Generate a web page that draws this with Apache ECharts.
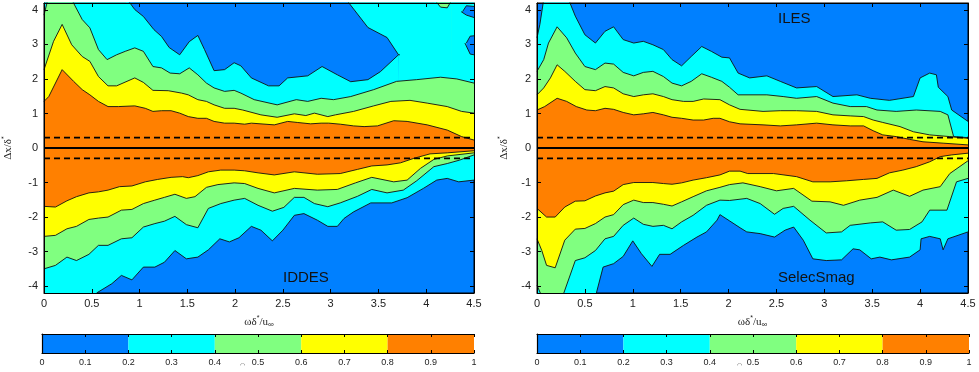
<!DOCTYPE html>
<html>
<head>
<meta charset="utf-8">
<script src="https://cdn.jsdelivr.net/npm/echarts@6/dist/echarts.min.js"></script>
<style>
html, body { margin: 0; padding: 0; background: #fff; }
#chart { width: 979px; height: 372px; }
</style>
</head>
<body>
<div id="chart"></div>
<script>
// contour levels and their colours (0-0.2 blue ... 0.8-1 orange)
var levelBreaks = [0, 0.2, 0.4, 0.6, 0.8, 1];
var levelColors = ['#0080ff', '#00ffff', '#80ff80', '#ffff00', '#ff8000'];
var yTicks = [-4, -3, -2, -1, 0, 1, 2, 3, 4];
var omegaRange = [0, 4.5];
var refLines = [0.3, 0, -0.3];
var panelNames = ['HomDynSmag', 'IDDES', 'ILES', 'SelecSmag'];

// ---- HomDynSmag (upper half, left panel) : contour lines [omega, dx]
var homL02 = [[0, 4.5], [4.5, 4.5]];
var homBlobTop = [[0.88, 4.5], [3.17, 4.5], [3.18, 4.24], [3.39, 3.49], [3.59, 3.20], [3.71, 2.70]];
var homBlobBottom = [[0.86, 4.35], [0.88, 4.3], [0.95, 4.01], [1.04, 3.81], [1.15, 3.43], [1.23, 3.23], [1.31, 2.91], [1.42, 2.70], [1.52, 3.08], [1.61, 3.26], [1.68, 2.85], [1.78, 2.24], [1.89, 2.27], [1.99, 2.47], [2.06, 2.38], [2.17, 2.03], [2.35, 1.80], [2.46, 1.80], [2.55, 2.03], [2.76, 2.09], [2.91, 2.36], [3.07, 2.12], [3.21, 1.92], [3.39, 1.98], [3.52, 2.21], [3.71, 2.70], [3.725, 2.70]];
var homPatchTop1 = [[4.38, 3.95], [4.42, 4.12], [4.5, 4.1]];
var homPatchBottom1 = [[4.365, 3.95], [4.38, 3.95], [4.42, 3.85], [4.5, 3.78]];
var homPatchTop2 = [[4.42, 3.04], [4.46, 3.24], [4.5, 3.25]];
var homPatchBottom2 = [[4.405, 3.04], [4.42, 3.04], [4.46, 2.72], [4.5, 2.70]];
var homIslandTop = [[4.10, 4.5], [4.26, 4.5]];
var homIslandBottom = [[4.085, 4.3], [4.10, 4.25], [4.15, 4.08], [4.22, 4.06], [4.26, 4.25], [4.275, 4.3]];
var homL04 = [[0, 3.85], [0.04, 4.3], [0.29, 4.3], [0.40, 3.72], [0.48, 3.48], [0.57, 2.85], [0.66, 2.56], [0.76, 2.70], [0.85, 2.80], [0.95, 2.90], [1.04, 2.80], [1.14, 2.36], [1.23, 2.32], [1.32, 2.17], [1.42, 2.15], [1.52, 2.32], [1.61, 2.12], [1.70, 1.88], [1.78, 1.74], [1.89, 1.64], [1.99, 1.67], [2.06, 1.59], [2.20, 1.40], [2.44, 1.25], [2.64, 1.40], [2.76, 1.35], [2.90, 1.44], [3.03, 1.40], [3.21, 1.49], [3.45, 1.69], [3.69, 1.93], [3.90, 1.98], [4.15, 2.05], [4.32, 2.0], [4.5, 1.88]];
var homL06 = [[0, 2.27], [0.10, 3.09], [0.19, 3.58], [0.29, 2.99], [0.40, 2.65], [0.48, 2.51], [0.57, 2.07], [0.67, 1.80], [0.76, 1.80], [0.95, 2.03], [1.04, 1.90], [1.14, 1.67], [1.30, 1.66], [1.44, 1.59], [1.51, 1.54], [1.61, 1.40], [1.70, 1.35], [1.78, 1.25], [1.89, 1.15], [1.99, 1.15], [2.08, 1.10], [2.27, 0.96], [2.44, 0.89], [2.62, 0.99], [2.74, 0.94], [2.83, 1.01], [2.97, 0.91], [3.05, 0.96], [3.24, 1.06], [3.45, 1.22], [3.63, 1.35], [3.83, 1.38], [4.01, 1.30], [4.22, 1.2], [4.37, 1.06], [4.5, 1.01]];
var homL08 = [[0, 1.35], [0.05, 1.49], [0.19, 2.27], [0.31, 1.93], [0.40, 1.69], [0.48, 1.54], [0.57, 1.35], [0.67, 1.2], [0.78, 1.2], [0.95, 1.22], [1.06, 1.15], [1.14, 1.06], [1.23, 1.08], [1.33, 1.08], [1.42, 1.01], [1.51, 0.91], [1.61, 0.86], [1.70, 0.86], [1.78, 0.77], [1.89, 0.72], [1.99, 0.72], [2.10, 0.69], [2.17, 0.72], [2.41, 0.67], [2.55, 0.77], [2.65, 0.74], [2.79, 0.70], [2.90, 0.72], [2.98, 0.72], [3.10, 0.69], [3.24, 0.64], [3.35, 0.62], [3.49, 0.64], [3.66, 0.79], [3.80, 0.77], [4.01, 0.67], [4.22, 0.52], [4.37, 0.33], [4.5, 0.23]];

// ---- IDDES (lower half, left panel)
var iddL02 = [[0, -4.5], [0.53, -4.5], [0.55, -4.2], [0.71, -3.93], [0.81, -3.69], [0.92, -3.82], [1.04, -3.45], [1.16, -3.45], [1.26, -3.31], [1.37, -2.97], [1.49, -3.21], [1.61, -3.16], [1.72, -2.95], [1.84, -2.63], [1.94, -2.72], [2.04, -2.60], [2.17, -2.27], [2.27, -2.38], [2.39, -2.69], [2.50, -2.38], [2.62, -1.95], [2.72, -1.90], [2.86, -2.09], [2.97, -2.27], [3.07, -2.27], [3.14, -2.04], [3.24, -1.85], [3.42, -1.59], [3.64, -1.59], [3.80, -1.44], [3.97, -1.17], [4.11, -0.93], [4.22, -0.88], [4.34, -0.98], [4.5, -0.93]];
var iddL04 = [[0, -3.50], [0.12, -3.40], [0.24, -3.16], [0.34, -3.26], [0.47, -3.08], [0.57, -2.82], [0.67, -2.82], [0.81, -2.63], [0.92, -2.60], [1.04, -2.29], [1.16, -2.19], [1.26, -2.12], [1.37, -1.98], [1.49, -2.22], [1.61, -2.31], [1.72, -1.75], [1.85, -1.61], [1.99, -1.51], [2.10, -1.46], [2.24, -1.66], [2.39, -1.83], [2.51, -1.72], [2.62, -1.43], [2.72, -1.43], [2.83, -1.61], [2.97, -1.70], [3.10, -1.59], [3.28, -1.40], [3.43, -1.20], [3.59, -1.30], [3.76, -1.22], [3.90, -0.95], [4.08, -0.54], [4.22, -0.45], [4.35, -0.35], [4.5, -0.20]];
var iddL06 = [[0, -2.56], [0.12, -2.53], [0.24, -2.34], [0.34, -2.27], [0.47, -2.07], [0.57, -2.03], [0.67, -2.0], [0.81, -1.80], [0.92, -1.78], [1.04, -1.61], [1.16, -1.51], [1.26, -1.43], [1.37, -1.34], [1.49, -1.46], [1.58, -1.41], [1.70, -1.14], [1.82, -1.06], [1.99, -1.01], [2.10, -1.03], [2.24, -1.17], [2.41, -1.30], [2.62, -1.17], [2.86, -1.22], [3.07, -1.20], [3.26, -1.01], [3.43, -0.85], [3.66, -0.98], [3.80, -0.93], [3.94, -0.59], [4.08, -0.33], [4.22, -0.23], [4.5, -0.14]];
var iddL08 = [[0, -1.69], [0.12, -1.71], [0.24, -1.53], [0.34, -1.41], [0.47, -1.30], [0.57, -1.27], [0.67, -1.22], [0.79, -1.12], [0.92, -1.10], [1.06, -0.98], [1.19, -0.91], [1.33, -0.85], [1.45, -0.83], [1.51, -0.86], [1.61, -0.80], [1.72, -0.69], [1.85, -0.64], [1.99, -0.64], [2.10, -0.66], [2.24, -0.72], [2.41, -0.78], [2.62, -0.69], [2.86, -0.76], [3.10, -0.74], [3.28, -0.62], [3.43, -0.52], [3.59, -0.49], [3.73, -0.43], [3.87, -0.30], [4.04, -0.17], [4.22, -0.14], [4.5, -0.08]];

// ---- ILES (upper half, right panel)
var ilesL02 = [[0, 3.19], [0.03, 3.58], [0.07, 4.3], [0.33, 4.3], [0.40, 3.82], [0.50, 3.28], [0.61, 3.04], [0.71, 3.38], [0.80, 3.51], [0.90, 3.14], [1.01, 3.04], [1.11, 3.09], [1.21, 2.99], [1.32, 2.85], [1.41, 2.56], [1.51, 2.38], [1.61, 2.65], [1.72, 2.94], [1.82, 2.80], [1.93, 2.63], [2.01, 2.61], [2.10, 2.17], [2.22, 2.03], [2.40, 2.09], [2.54, 1.93], [2.71, 1.74], [2.92, 1.78], [3.09, 1.49], [3.34, 1.54], [3.48, 1.44], [3.68, 1.38], [3.93, 1.49], [4.0, 2.03], [4.10, 2.17], [4.17, 2.12], [4.19, 1.76], [4.29, 1.49], [4.33, 1.10], [4.5, 0.77]];
var ilesL04 = [[0, 2.22], [0.07, 2.56], [0.12, 3.04], [0.21, 3.51], [0.31, 3.19], [0.40, 2.75], [0.50, 2.36], [0.61, 2.27], [0.71, 2.46], [0.80, 2.43], [0.90, 2.19], [1.01, 2.09], [1.11, 2.19], [1.21, 2.22], [1.32, 2.07], [1.41, 1.88], [1.51, 1.80], [1.61, 1.93], [1.72, 2.15], [1.82, 2.05], [1.93, 1.93], [2.01, 1.76], [2.10, 1.54], [2.40, 1.54], [2.57, 1.49], [2.71, 1.44], [2.92, 1.49], [3.09, 1.30], [3.27, 1.20], [3.44, 1.20], [3.55, 1.10], [3.75, 1.06], [3.96, 1.10], [4.21, 1.06], [4.29, 0.96], [4.35, 0.33], [4.5, 0.30]];
var ilesL06 = [[0, 1.54], [0.07, 1.74], [0.14, 2.03], [0.21, 2.41], [0.29, 2.22], [0.40, 1.93], [0.50, 1.69], [0.61, 1.66], [0.71, 1.78], [0.80, 1.74], [0.90, 1.57], [1.01, 1.49], [1.11, 1.54], [1.21, 1.57], [1.32, 1.49], [1.41, 1.40], [1.53, 1.35], [1.63, 1.35], [1.74, 1.42], [1.91, 1.40], [2.01, 1.25], [2.12, 1.12], [2.36, 1.06], [2.54, 1.08], [2.71, 1.08], [2.92, 1.06], [3.09, 0.96], [3.27, 0.93], [3.41, 0.91], [3.51, 0.81], [3.61, 0.74], [3.79, 0.62], [3.93, 0.47], [4.10, 0.38], [4.31, 0.33], [4.5, 0.28]];
var ilesL08 = [[0, 1.10], [0.08, 1.20], [0.21, 1.44], [0.31, 1.35], [0.41, 1.20], [0.52, 1.10], [0.61, 1.08], [0.71, 1.15], [0.80, 1.12], [0.90, 1.03], [1.01, 0.96], [1.11, 0.99], [1.21, 1.03], [1.32, 0.96], [1.41, 0.89], [1.51, 0.86], [1.63, 0.81], [1.74, 0.81], [1.84, 0.86], [1.91, 0.86], [2.01, 0.76], [2.12, 0.70], [2.36, 0.67], [2.54, 0.64], [2.71, 0.67], [2.92, 0.72], [3.09, 0.67], [3.27, 0.64], [3.41, 0.64], [3.51, 0.50], [3.61, 0.38], [3.75, 0.33], [3.89, 0.25], [4.03, 0.18], [4.24, 0.14], [4.5, 0.09]];

// ---- SelecSmag (lower half, right panel)
var selL02 = [[0, -4.5], [0.60, -4.5], [0.62, -4.2], [0.69, -3.45], [0.80, -3.35], [0.90, -3.14], [1.0, -2.69], [1.09, -3.06], [1.20, -3.43], [1.28, -3.08], [1.39, -3.08], [1.53, -2.82], [1.67, -2.58], [1.77, -2.43], [1.88, -2.09], [1.91, -1.93], [2.01, -2.11], [2.12, -2.31], [2.19, -2.43], [2.33, -2.48], [2.48, -2.58], [2.59, -2.38], [2.68, -2.29], [2.78, -2.67], [2.88, -3.21], [3.02, -3.26], [3.18, -3.24], [3.30, -2.92], [3.37, -2.95], [3.49, -3.21], [3.58, -3.16], [3.70, -3.24], [3.89, -3.16], [4.0, -2.95], [4.01, -2.63], [4.10, -2.56], [4.21, -2.63], [4.24, -2.95], [4.29, -2.63], [4.5, -2.43]];
var selL04 = [[0, -3.98], [0.035, -4.2], [0.04, -4.5], [0.27, -4.5], [0.28, -4.2], [0.40, -3.26], [0.50, -3.18], [0.61, -2.97], [0.71, -2.63], [0.80, -2.56], [0.90, -2.24], [1.01, -2.03], [1.11, -2.21], [1.21, -2.27], [1.32, -2.24], [1.41, -2.34], [1.51, -2.14], [1.63, -1.95], [1.77, -1.66], [1.91, -1.51], [2.01, -1.52], [2.19, -1.46], [2.33, -1.61], [2.48, -1.92], [2.57, -1.75], [2.68, -1.69], [2.85, -2.09], [3.02, -2.46], [3.18, -2.43], [3.27, -2.24], [3.48, -2.17], [3.61, -2.14], [3.75, -2.38], [3.89, -2.36], [4.02, -2.14], [4.10, -1.80], [4.28, -1.80], [4.38, -0.98], [4.5, -0.88]];
var selL06 = [[0, -2.63], [0.05, -2.97], [0.10, -3.40], [0.19, -3.47], [0.29, -2.67], [0.40, -2.35], [0.50, -2.33], [0.61, -2.19], [0.71, -2.0], [0.80, -1.93], [0.90, -1.64], [1.01, -1.51], [1.11, -1.58], [1.21, -1.58], [1.32, -1.63], [1.41, -1.68], [1.51, -1.56], [1.63, -1.41], [1.77, -1.24], [1.91, -1.14], [2.01, -1.06], [2.15, -1.01], [2.33, -1.12], [2.50, -1.24], [2.68, -1.17], [2.87, -1.54], [3.06, -1.56], [3.20, -1.66], [3.37, -1.51], [3.55, -1.43], [3.72, -1.22], [3.89, -1.40], [4.03, -1.22], [4.21, -1.12], [4.31, -0.74], [4.5, -0.37]];
var selL08 = [[0, -1.75], [0.10, -2.0], [0.19, -2.0], [0.29, -1.71], [0.40, -1.54], [0.50, -1.53], [0.61, -1.39], [0.71, -1.30], [0.80, -1.25], [0.90, -1.06], [1.01, -1.0], [1.21, -1.0], [1.32, -1.03], [1.41, -1.05], [1.51, -1.01], [1.63, -0.93], [1.77, -0.86], [1.91, -0.78], [2.01, -0.67], [2.12, -0.67], [2.20, -0.74], [2.47, -0.74], [2.71, -0.83], [2.88, -0.98], [3.06, -0.98], [3.23, -0.95], [3.41, -0.91], [3.55, -0.88], [3.68, -0.72], [3.82, -0.64], [3.96, -0.54], [4.10, -0.40], [4.21, -0.25], [4.33, -0.20], [4.5, -0.15]];

var BLUE = levelColors[0], CYAN = levelColors[1], GREEN = levelColors[2], YELLOW = levelColors[3], ORANGE = levelColors[4];
var FONT = 'Liberation Sans, Arial, Helvetica, sans-serif';

var myChart = echarts.init(document.getElementById('chart'));

// filled contour: line with area down to 0
function band(data, color, xi, yi) {
    return {
        type: 'line',
        xAxisIndex: xi,
        yAxisIndex: yi,
        data: data,
        symbol: 'none',
        clip: true,
        silent: true,
        animation: false,
        lineStyle: {color: '#111', width: 0.9},
        areaStyle: {color: color, opacity: 1, origin: 'auto'}
    };
}

function refLine(v, xi, yi) {
    return {
        type: 'line',
        xAxisIndex: xi,
        yAxisIndex: yi,
        data: [[omegaRange[0], v], [omegaRange[1], v]],
        symbol: 'none',
        silent: true,
        animation: false,
        z: 5,
        lineStyle: {color: '#000', width: v === 0 ? 2 : 1.6, type: v === 0 ? 'solid' : [6, 4]}
    };
}

function mainX(gi, pos) {
    return {
        type: 'value', gridIndex: gi, position: pos, min: omegaRange[0], max: omegaRange[1], interval: 0.5,
        z: 10,
        axisLine: {show: true, onZero: false, lineStyle: {color: '#000', width: 1}},
        axisTick: {show: true, inside: true, length: 4, lineStyle: {color: '#000'}},
        axisLabel: {show: pos === 'bottom', color: '#222', fontSize: 11, fontFamily: FONT, margin: 5},
        splitLine: {show: false},
        name: pos === 'bottom' ? '{a|ωδ}{s|*}{a|/u}{b|∞}' : '',
        nameLocation: 'middle',
        nameGap: 16,
        nameTextStyle: {
            rich: {
                a: {fontSize: 11, fontFamily: 'Liberation Serif, serif', color: '#222', lineHeight: 14},
                s: {fontSize: 7, color: '#222', verticalAlign: 'top', lineHeight: 14},
                b: {fontSize: 8, color: '#222', verticalAlign: 'bottom', lineHeight: 14, padding: [7, 0, 0, 0]}
            }
        }
    };
}

function mainY(gi, pos, gap) {
    return {
        type: 'value', gridIndex: gi, position: pos, min: -4.2, max: 4.2,
        z: 10,
        axisLine: {show: true, onZero: false, lineStyle: {color: '#000', width: 1}},
        axisTick: {show: true, inside: true, length: 4, customValues: yTicks, lineStyle: {color: '#000'}},
        axisLabel: {show: pos === 'left', customValues: yTicks, color: '#222', fontSize: 11, fontFamily: FONT, margin: 6},
        splitLine: {show: false},
        name: pos === 'left' ? '{a|Δx/δ}{s|*}' : '',
        nameLocation: 'middle',
        nameRotate: 90,
        nameGap: gap,
        nameTextStyle: {
            rich: {
                a: {fontSize: 11, fontFamily: 'Liberation Serif, serif', color: '#222', lineHeight: 14},
                s: {fontSize: 7, color: '#222', verticalAlign: 'top', lineHeight: 14}
            }
        }
    };
}

function cbX(gi, pos) {
    return {
        type: 'value', gridIndex: gi, position: pos, min: 0, max: 1, interval: 0.1,
        z: 10,
        axisLine: {show: true, onZero: false, lineStyle: {color: '#000', width: 1.2}},
        axisTick: {show: true, inside: true, length: 3, lineStyle: {color: '#000'}},
        axisLabel: {show: pos === 'bottom', color: '#222', fontSize: 9, fontFamily: FONT, margin: 5},
        splitLine: {show: false}
    };
}

function cbY(gi) {
    return {
        type: 'category', gridIndex: gi, data: ['c'], z: 10,
        axisLine: {show: true, lineStyle: {color: '#000', width: 1.2}},
        axisTick: {show: false},
        axisLabel: {show: false}
    };
}

var series = [
    // HomDynSmag
    band(homL02, CYAN, 0, 0),
    band(homBlobTop, BLUE, 0, 0),
    band(homBlobBottom, CYAN, 0, 0),
    band(homIslandTop, GREEN, 0, 0),
    band(homIslandBottom, CYAN, 0, 0),
    band(homPatchTop1, BLUE, 0, 0),
    band(homPatchBottom1, CYAN, 0, 0),
    band(homPatchTop2, BLUE, 0, 0),
    band(homPatchBottom2, CYAN, 0, 0),
    band(homL04, GREEN, 0, 0),
    band(homL06, YELLOW, 0, 0),
    band(homL08, ORANGE, 0, 0),
    // IDDES
    band(iddL02, CYAN, 0, 0),
    band(iddL04, GREEN, 0, 0),
    band(iddL06, YELLOW, 0, 0),
    band(iddL08, ORANGE, 0, 0),
    // ILES
    band(ilesL02, CYAN, 2, 2),
    band(ilesL04, GREEN, 2, 2),
    band(ilesL06, YELLOW, 2, 2),
    band(ilesL08, ORANGE, 2, 2),
    // SelecSmag
    band(selL02, CYAN, 2, 2),
    band(selL04, GREEN, 2, 2),
    band(selL06, YELLOW, 2, 2),
    band(selL08, ORANGE, 2, 2)
];

refLines.forEach(function (v) {
    series.push(refLine(v, 0, 0));
    series.push(refLine(v, 2, 2));
});

// colour bars
[[4, 4, 'cbL'], [6, 5, 'cbR']].forEach(function (cb) {
    for (var i = 0; i < levelColors.length; i++) {
        series.push({
            type: 'bar',
            xAxisIndex: cb[0],
            yAxisIndex: cb[1],
            stack: cb[2],
            data: [levelBreaks[i + 1] - levelBreaks[i]],
            barWidth: '100%',
            silent: true,
            animation: false,
            itemStyle: {color: levelColors[i]}
        });
    }
});

function label(text, x, y) {
    return {
        type: 'text', left: x, top: y,
        style: {text: text, fontSize: 15, fontFamily: FONT, fill: '#111'}
    };
}

var option = {
    backgroundColor: '#fff',
    animation: false,
    grid: [
        {left: 42, top: 3, width: 432, height: 290, show: true, backgroundColor: BLUE, borderColor: '#000'},
        {left: 537, top: 3, width: 431, height: 290, show: true, backgroundColor: BLUE, borderColor: '#000'},
        {left: 42, top: 334, width: 432, height: 19},
        {left: 537, top: 334, width: 432, height: 19}
    ],
    xAxis: [
        mainX(0, 'bottom'), mainX(0, 'top'),
        mainX(1, 'bottom'), mainX(1, 'top'),
        cbX(2, 'bottom'), cbX(2, 'top'),
        cbX(3, 'bottom'), cbX(3, 'top')
    ],
    yAxis: [
        mainY(0, 'left', 29), mainY(0, 'right', 0),
        mainY(1, 'left', 26), mainY(1, 'right', 0),
        cbY(2), cbY(3)
    ],
    graphic: [
        label(panelNames[0], 283, 11),
        label(panelNames[1], 283, 270),
        label(panelNames[2], 778, 11),
        label(panelNames[3], 778, 270),
        {type: 'text', left: 240, top: 362, style: {text: '◠', fontSize: 6, fill: '#444'}},
        {type: 'text', left: 737, top: 362, style: {text: '◠', fontSize: 6, fill: '#444'}}
    ],
    series: series
};

myChart.setOption(option);
</script>
</body>
</html>
